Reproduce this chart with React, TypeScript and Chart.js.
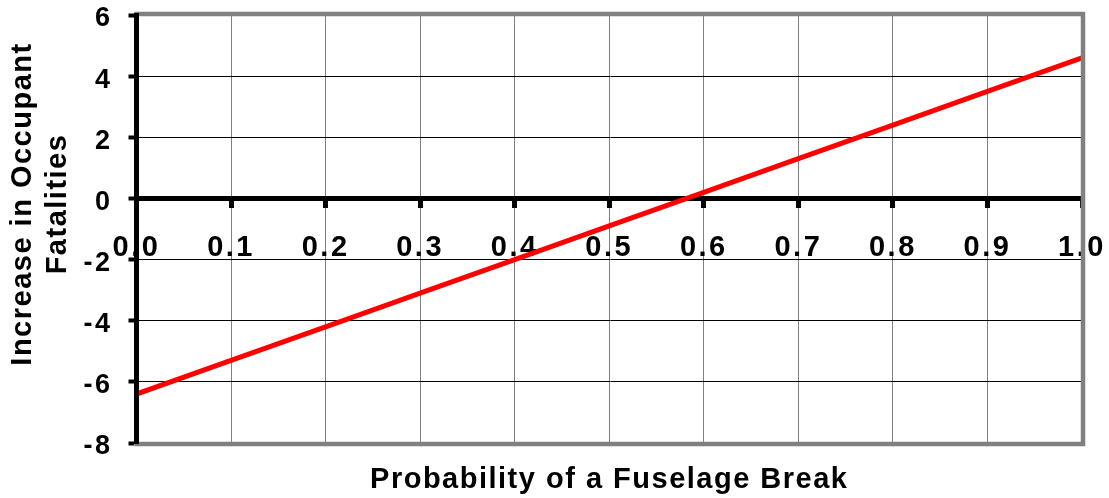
import React, { useEffect, useRef } from "react";
import { Chart, registerables } from "chart.js";

Chart.register(...registerables);

const xValues = [0, 0.1, 0.2, 0.3, 0.4, 0.5, 0.6, 0.7, 0.8, 0.9, 1.0];
const fatalityIncrease = [-6.4, -5.3, -4.2, -3.1, -2.0, -0.9, 0.2, 1.3, 2.4, 3.5, 4.6];
const xTicks = [0, 0.1, 0.2, 0.3, 0.4, 0.5, 0.6, 0.7, 0.8, 0.9, 1.0];
const yTicks = [-8, -6, -4, -2, 0, 2, 4, 6];
const yTitleLines = ["Increase in Occupant", "Fatalities"];
const xTitle = "Probability of a Fuselage Break";

const FONT = "'Liberation Sans', Arial, Helvetica, sans-serif";

const zeroPadding = (s: any) => {
  s.paddingLeft = 0;
  s.paddingRight = 0;
  s.paddingTop = 0;
  s.paddingBottom = 0;
};

const framePlugin = {
  id: "frame",
  beforeDraw(chart: any) {
    try {
      (chart.ctx as any).letterSpacing = "2.5px";
    } catch (e) {}
  },
  afterDatasetsDraw(chart: any) {
    const { ctx, chartArea } = chart;
    const { left, right, top, bottom } = chartArea;
    ctx.save();
    ctx.strokeStyle = "#808080";
    ctx.lineWidth = 4.5;
    ctx.strokeRect(left, top - 1, right - left + 1, bottom - top + 2);
    ctx.restore();
  },
  afterDraw(chart: any) {
    const { ctx, chartArea } = chart;
    ctx.save();
    ctx.fillStyle = "#000";
    ctx.font = `bold 29px ${FONT}`;
    try {
      (ctx as any).letterSpacing = "1.5px";
    } catch (e) {}
    ctx.textAlign = "center";
    ctx.textBaseline = "alphabetic";
    ctx.fillText(xTitle, (chartArea.left + chartArea.right) / 2, 488);
    const baselines = [31, 66];
    yTitleLines.forEach((line, i) => {
      ctx.save();
      ctx.translate(baselines[i], 204);
      ctx.rotate(-Math.PI / 2);
      ctx.fillText(line, 0, 0);
      ctx.restore();
    });
    ctx.restore();
  },
};

export default function App() {
  const canvasRef = useRef<HTMLCanvasElement | null>(null);

  useEffect(() => {
    if (!canvasRef.current) return;
    const chart = new Chart(canvasRef.current, {
      type: "line",
      data: {
        datasets: [
          {
            label: "Increase in Occupant Fatalities",
            data: xValues.map((x, i) => ({ x, y: fatalityIncrease[i] })),
            borderColor: "#FF0000",
            borderWidth: 5,
            pointRadius: 0,
            tension: 0,
            fill: false,
          },
        ],
      },
      options: {
        animation: false,
        responsive: false,
        maintainAspectRatio: false,
        layout: { padding: { top: 15, right: 27, bottom: 55, left: 0 } },
        plugins: {
          legend: { display: false },
          tooltip: { enabled: false },
          title: { display: false },
        },
        scales: {
          x: {
            type: "linear",
            min: 0,
            max: 1,
            position: { y: 0 } as any,
            afterFit: (s: any) => {
              s.height = 0;
              zeroPadding(s);
            },
            afterBuildTicks: (s: any) => {
              s.ticks = xTicks.map((v) => ({ value: v }));
            },
            grid: {
              color: "#808080",
              lineWidth: 1,
              tickColor: "#000",
              tickWidth: 5,
              tickLength: 7,
              drawTicks: true,
            },
            border: { display: true, color: "#000", width: 5 },
            ticks: {
              color: "#000",
              font: { family: FONT, size: 29, weight: "bold" },
              padding: 25,
              maxRotation: 0,
              autoSkip: false,
              callback: (v: any) => Number(v).toFixed(1),
            },
          },
          y: {
            type: "linear",
            min: -8,
            max: 6,
            position: "left",
            afterFit: (s: any) => {
              s.width = 136.5;
              zeroPadding(s);
            },
            afterBuildTicks: (s: any) => {
              s.ticks = yTicks.map((v) => ({ value: v }));
            },
            grid: {
              color: "#000",
              lineWidth: 1,
              tickColor: "#000",
              tickWidth: 4,
              tickLength: 8,
            },
            border: { display: true, color: "#000", width: 5, z: 1 },
            ticks: {
              color: "#000",
              font: { family: FONT, size: 27, weight: "bold", lineHeight: 1 },
              padding: 16,
              labelOffset: 4,
              autoSkip: false,
            },
          },
        },
      },
      plugins: [framePlugin],
    });
    return () => chart.destroy();
  }, []);

  return (
    <div style={{ position: "fixed", left: 0, top: 0, width: 1109, height: 498, background: "#fff" }}>
      <canvas ref={canvasRef} width={1109} height={498} style={{ display: "block", width: 1109, height: 498 }} />
    </div>
  );
}
